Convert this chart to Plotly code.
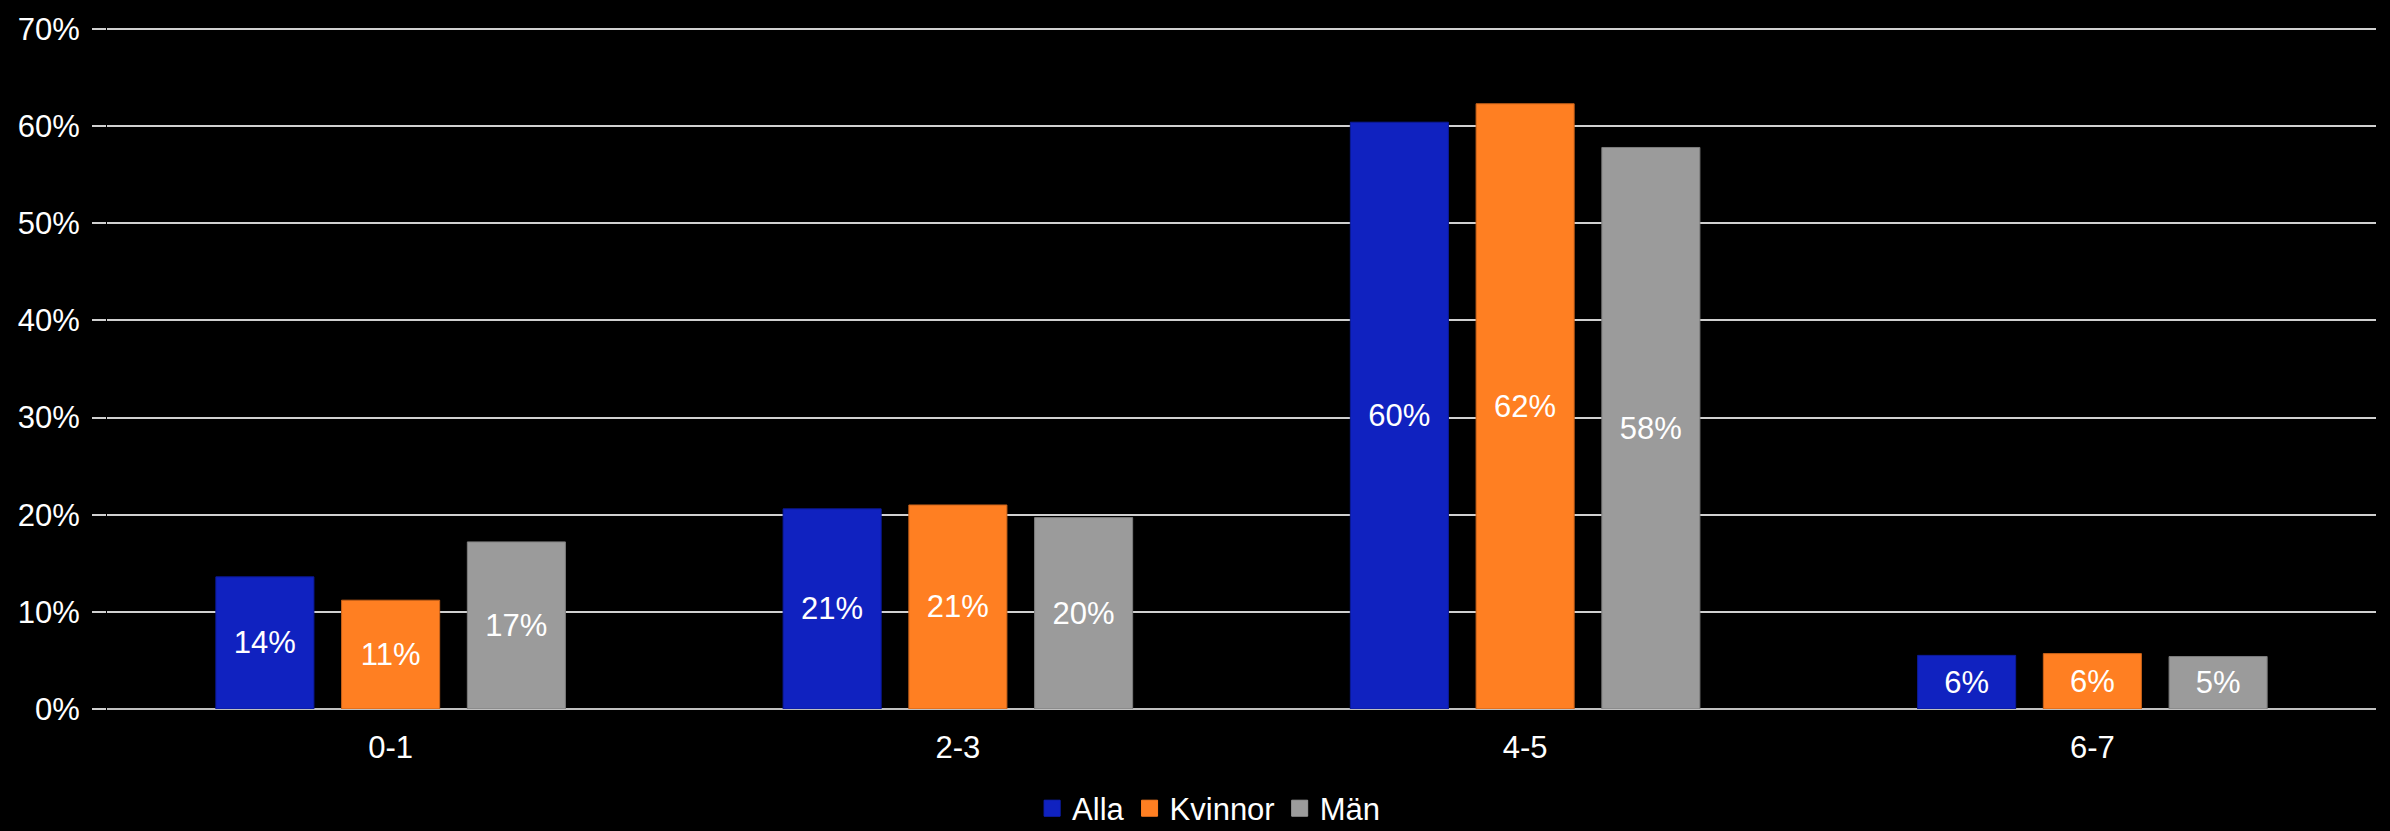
import plotly.graph_objects as go

# Categories and shares per group
categories = ["0-1", "2-3", "4-5", "6-7"]
alla = [0.136, 0.206, 0.604, 0.0552]
kvinnor = [0.112, 0.210, 0.623, 0.057]
man = [0.172, 0.197, 0.578, 0.054]

series = [
    ("Alla", alla, "#1022C0", "#0c1a98"),
    ("Kvinnor", kvinnor, "#FF7F22", "#c9621a"),
    ("Män", man, "#9B9B9B", "#7d7d7d"),
]

FONT = "Liberation Sans, Arial, sans-serif"
GRID = "#d0d0d0"

fig = go.Figure()
for name, vals, color, edge in series:
    fig.add_trace(go.Bar(
        x=categories, y=vals, name=name,
        marker=dict(color=color, line=dict(color=edge, width=1)),
        texttemplate="%{y:.0%}",
        textposition="inside",
        insidetextanchor="middle",
        constraintext="none",
        textfont=dict(color="white", size=31, family=FONT),
        showlegend=False,
        hoverinfo="skip",
    ))

# Legend entries with square swatches
for name, vals, color, edge in series:
    fig.add_trace(go.Scatter(
        x=[None], y=[None], mode="markers", name=name,
        marker=dict(symbol="square", size=16, color=color,
                    line=dict(color=color, width=1)),
    ))

fig.update_layout(
    width=2390, height=831,
    paper_bgcolor="black", plot_bgcolor="black",
    margin=dict(l=107, r=14, t=18, b=122),
    barmode="group", bargap=0.335, bargroupgap=0.22,
    font=dict(family=FONT, size=31, color="white"),
    showlegend=True,
    legend=dict(
        orientation="h", xref="container", yref="container",
        x=0.5057, xanchor="center", y=0.027, yanchor="middle",
        font=dict(size=31, color="white", family=FONT),
        bgcolor="rgba(0,0,0,0)", itemwidth=30,
    ),
    xaxis=dict(
        type="category", range=[-0.5, 3.5],
        showgrid=False, zeroline=False, showline=False, ticks="",
        ticklabelstandoff=17,
        tickfont=dict(size=31, color="white", family=FONT),
    ),
    yaxis=dict(
        range=[0, 0.702], dtick=0.1, tick0=0, tickformat=".0%",
        showgrid=True, gridcolor=GRID, gridwidth=2,
        zeroline=True, zerolinecolor="#c0c0c0", zerolinewidth=2,
        ticks="outside", ticklen=14, tickcolor=GRID, tickwidth=2,
        ticklabelstandoff=6,
        showline=False,
        tickfont=dict(size=31, color="white", family=FONT),
    ),
)

fig.write_html("out.html")
